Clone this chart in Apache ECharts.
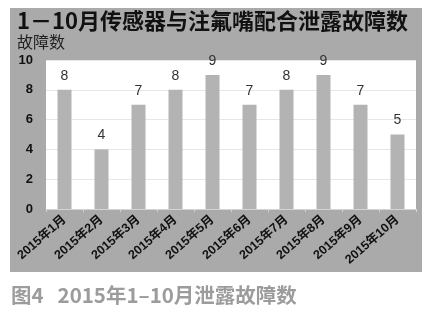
<!DOCTYPE html>
<html><head><meta charset="utf-8">
<script src="https://cdn.jsdelivr.net/npm/echarts@6/dist/echarts.min.js"></script>
<style>html,body{margin:0;padding:0;background:#fff}#c{width:433px;height:324px}</style>
</head><body><div id="c"></div>
<script>
const categories = ['2015年1月','2015年2月','2015年3月','2015年4月','2015年5月','2015年6月','2015年7月','2015年8月','2015年9月','2015年10月'];
const faults = [8,4,7,8,9,7,8,9,7,5];
const yTicks = {min:0, max:10, interval:2};
const titleText = '1－10月传感器与注氟嘴配合泄露故障数';
const yName = '故障数';
const captionText = '图4   2015年1–10月泄露故障数';

const FONT = '"Liberation Sans","Noto Sans CJK SC",sans-serif';
const chart = echarts.init(document.getElementById('c'));
chart.setOption({
  animation:false,
  backgroundColor:'#ffffff',
  graphic:[
    {type:'rect', z:-10, shape:{x:10,y:8,width:412,height:264}, style:{fill:'#aaaaaa'}},
    {type:'text', left:17, top:10, style:{text:titleText, font:'bold 22px "Noto Sans CJK SC",sans-serif', fill:'#111'}},
    {type:'text', left:17, top:34, style:{text:yName, font:'16px "Noto Sans CJK SC",sans-serif', fill:'#222'}},
    {type:'text', left:11, top:285, style:{text:captionText, font:'bold 20.5px "Noto Sans CJK SC",sans-serif', fill:'#9c9c9c'}}
  ],
  grid:{left:46, right:17, top:60, bottom:115, show:true, backgroundColor:'#ffffff', borderWidth:0},
  xAxis:{
    type:'category', data:categories,
    axisLine:{lineStyle:{color:'#d4d4d4'}},
    axisTick:{show:true, lineStyle:{color:'#d4d4d4'}, length:3},
    axisLabel:{rotate:41, fontSize:12.5, fontWeight:'bold', color:'#111', fontFamily:FONT, margin:9, interval:0}
  },
  yAxis:{
    type:'value', min:yTicks.min, max:yTicks.max, interval:yTicks.interval,
    axisLine:{show:false}, axisTick:{show:false},
    splitLine:{lineStyle:{color:'#e6e6e6'}},
    axisLabel:{fontSize:13, fontWeight:'bold', color:'#111', fontFamily:FONT, margin:13}
  },
  series:[{
    type:'bar', data:faults, barWidth:14,
    itemStyle:{color:'#b3b3b3'},
    label:{show:true, position:'top', distance:7, fontSize:14, color:'#333', fontFamily:FONT}
  }]
});
</script></body></html>
